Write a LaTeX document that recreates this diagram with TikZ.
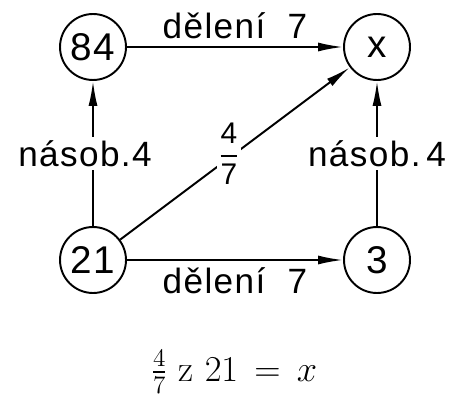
\documentclass[tikz,border=0pt]{standalone}
\usepackage{fontspec}
\usepackage{amsmath}
\usetikzlibrary{arrows.meta}
\newfontfamily\diagfont[LetterSpace=4]{Liberation Sans}

\begin{document}
\begin{tikzpicture}[x=0.02cm,y=-0.02cm,
          uzel/.style={circle,draw,line width=1.1pt,minimum size=1.32cm,
                       inner sep=0pt,font=\diagfont\fontsize{22}{24}\selectfont},
          sip/.style={line width=1.1pt,-{Latex[length=5mm,width=1.8mm]}},
          popis/.style={font=\diagfont\fontsize{20}{22}\selectfont,inner sep=2pt},
          zlomek/.style={font=\diagfont\fontsize{17}{19}\selectfont,
                         fill=white,inner sep=1pt},
        ]
        \useasboundingbox (0,0) rectangle (455,405);
        \node[uzel] (84) at (93,47){84};
        \node[uzel] (x)  at (377,47){x};
        \node[uzel] (21) at (93,260){21};
        \node[uzel] (3)  at (377,260){3};
        % vodorovne sipky
        \draw[sip] (84) -- node[popis,above=2pt]{dělení\ \ 7} (x);
        \draw[sip] (21) -- node[popis,below=2pt]{dělení\ \ 7} (3);
        % svisle sipky
        \draw[sip] (21) -- node[popis,fill=white,xshift=-0.16cm]{násob.4} (84);
        \draw[sip] (3)  -- node[popis,fill=white]{násob.\,4} (x);
        % sikma sipka
        \draw[sip] (21) -- node[zlomek,xshift=-0.12cm]
              {$\displaystyle\frac{\text{4}}{\text{7}}$} (x);
        \node[font=\fontsize{21}{25}\selectfont] (rovnice) at (234,372)
              {$\frac{4}{7}\ \mathrm{z}\ 21 \,=\, x$};
      \end{tikzpicture}
\end{document}
